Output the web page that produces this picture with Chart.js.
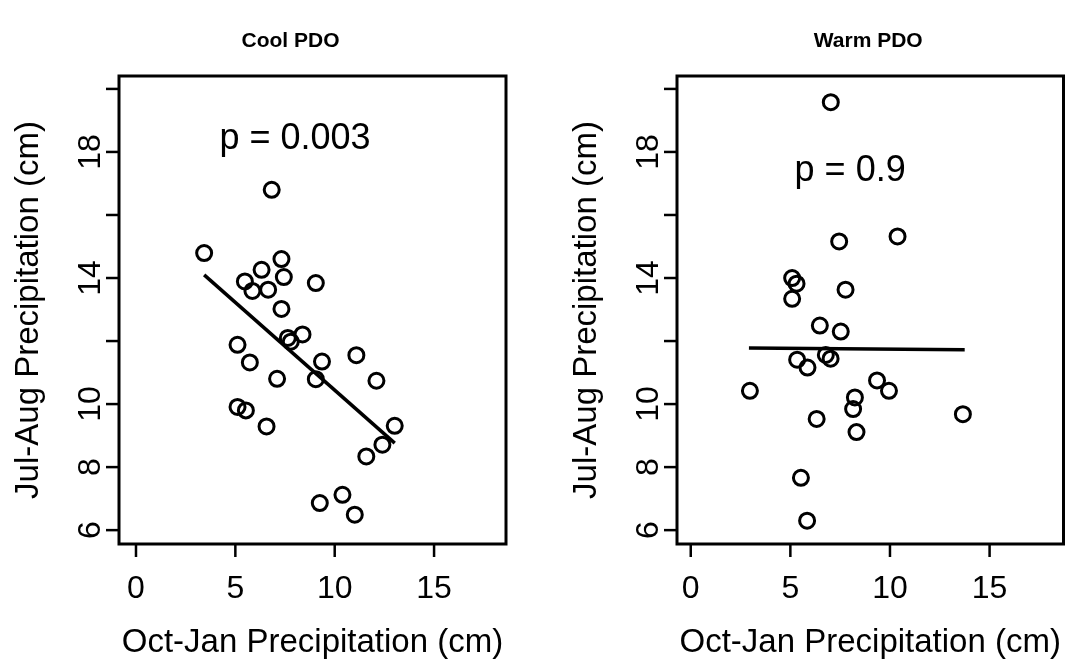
<!DOCTYPE html>
<html>
<head>
<meta charset="utf-8">
<script src="https://cdn.jsdelivr.net/npm/chart.js@4.4.1/dist/chart.umd.min.js"></script>
<style>
html,body{margin:0;padding:0;background:#fff;}
#wrap{position:relative;width:1074px;height:663px;overflow:hidden;background:#fff;}
canvas{position:absolute;top:0;}
</style>
</head>
<body>
<div id="wrap">
<canvas id="c1" width="537" height="663" style="left:0px"></canvas>
<canvas id="c2" width="537" height="663" style="left:537px"></canvas>
</div>
<script>
// ---- data ----
const panelTitles = ['Cool PDO', 'Warm PDO'];
const pLabels = ['p = 0.003', 'p = 0.9'];
const xAxisTitle = 'Oct-Jan Precipitation (cm)';
const yAxisTitle = 'Jul-Aug Precipitation (cm)';
const xTicks = [0, 5, 10, 15];
const xTickLabels = ['0', '5', '10', '15'];
const yTicks = [6, 8, 10, 12, 14, 16, 18, 20];
const yTickLabels = ['6', '8', '10', '', '14', '', '18', ''];

const coolX = [3.43, 6.32, 7.32, 5.48, 5.86, 6.65, 7.44, 9.05, 7.32, 7.64, 8.38, 7.79, 5.11, 5.73, 11.09, 9.36, 7.10, 9.05, 12.10, 6.83, 5.11, 5.53, 6.57, 13.02, 12.40, 11.59, 10.39, 9.25, 11.01];
const coolY = [14.79, 14.26, 14.60, 13.89, 13.59, 13.63, 14.03, 13.84, 13.02, 12.10, 12.21, 11.98, 11.88, 11.32, 11.55, 11.35, 10.80, 10.79, 10.74, 16.80, 9.91, 9.80, 9.29, 9.31, 8.71, 8.34, 7.12, 6.86, 6.49];
const coolFitX = [3.43, 13.02];
const coolFitY = [14.10, 8.76];

const warmX = [7.03, 7.45, 10.38, 5.09, 5.31, 5.09, 7.77, 6.48, 7.53, 6.78, 7.02, 5.34, 5.86, 2.97, 9.35, 9.95, 8.24, 8.15, 6.32, 13.66, 8.32, 5.53, 5.84];
const warmY = [19.58, 15.16, 15.32, 14.00, 13.82, 13.34, 13.63, 12.49, 12.30, 11.56, 11.44, 11.41, 11.16, 10.42, 10.75, 10.42, 10.21, 9.84, 9.53, 9.68, 9.11, 7.66, 6.30];
const warmFitX = [2.92, 13.75];
const warmFitY = [11.78, 11.72];

// ---- layout / style ----
const FONT = '"Liberation Sans", Arial, Helvetica, sans-serif';
const panels = [
  {canvas: 'c1', xs: coolX, ys: coolY, fx: coolFitX, fy: coolFitY, title: panelTitles[0], p: pLabels[0],
   pPos: [8, 18.5], titleShift: -22, xMin: -0.855, xMax: 18.62, pad: {left: 119, right: 31, top: 76, bottom: 119}},
  {canvas: 'c2', xs: warmX, ys: warmY, fx: warmFitX, fy: warmFitY, title: panelTitles[1], p: pLabels[1],
   pPos: [8, 17.5], titleShift: -2, xMin: -0.69, xMax: 18.71, pad: {left: 140, right: 10, top: 76, bottom: 119}}
];

function toPts(xs, ys) { return xs.map((x, i) => ({x: x, y: ys[i]})); }

const decor = {
  id: 'decor',
  afterDraw(chart, args, opts) {
    const ctx = chart.ctx, a = chart.chartArea;
    const sx = chart.scales.x, sy = chart.scales.y;
    ctx.save();
    ctx.strokeStyle = '#000';
    ctx.fillStyle = '#000';
    // frame
    ctx.lineWidth = 3;
    ctx.strokeRect(a.left, a.top, a.right - a.left, a.bottom - a.top);
    // x ticks
    ctx.lineWidth = 2.5;
    ctx.font = '32px ' + FONT;
    ctx.textAlign = 'center';
    ctx.textBaseline = 'alphabetic';
    xTicks.forEach((v, i) => {
      const px = sx.getPixelForValue(v);
      ctx.beginPath(); ctx.moveTo(px, a.bottom); ctx.lineTo(px, a.bottom + 13); ctx.stroke();
      ctx.fillText(xTickLabels[i], px, a.bottom + 54);
    });
    // y ticks (labels rotated)
    yTicks.forEach((v, i) => {
      const py = sy.getPixelForValue(v);
      ctx.beginPath(); ctx.moveTo(a.left, py); ctx.lineTo(a.left - 13, py); ctx.stroke();
      if (yTickLabels[i]) {
        ctx.save();
        ctx.translate(a.left - 19, py);
        ctx.rotate(-Math.PI / 2);
        ctx.fillText(yTickLabels[i], 0, 0);
        ctx.restore();
      }
    });
    // axis titles
    ctx.font = '33px ' + FONT;
    const cx = (a.left + a.right) / 2, cy = (a.top + a.bottom) / 2;
    ctx.fillText(xAxisTitle, cx, a.bottom + 108);
    ctx.save();
    ctx.translate(a.left - 81, cy);
    ctx.rotate(-Math.PI / 2);
    ctx.fillText(yAxisTitle, 0, 0);
    ctx.restore();
    // panel title
    ctx.font = 'bold 21px ' + FONT;
    ctx.fillText(opts.title, cx + opts.titleShift, 47);
    // p value
    ctx.font = '36px ' + FONT;
    ctx.fillText(opts.p, sx.getPixelForValue(opts.pPos[0]), sy.getPixelForValue(opts.pPos[1]) + 13);
    ctx.restore();
  }
};

panels.forEach(p => {
  new Chart(document.getElementById(p.canvas), {
    type: 'scatter',
    data: {
      datasets: [
        {
          type: 'scatter',
          data: toPts(p.xs, p.ys),
          pointStyle: 'circle',
          pointRadius: 7.5,
          pointBorderWidth: 3,
          pointBackgroundColor: 'rgba(0,0,0,0)',
          pointBorderColor: '#000',
          showLine: false
        },
        {
          type: 'line',
          data: toPts(p.fx, p.fy),
          borderColor: '#000',
          borderWidth: 3.5,
          pointRadius: 0,
          fill: false,
          tension: 0
        }
      ]
    },
    options: {
      responsive: false,
      animation: false,
      events: [],
      layout: {padding: p.pad},
      plugins: {
        legend: {display: false},
        tooltip: {enabled: false},
        title: {display: false},
        decor: {title: p.title, p: p.p, pPos: p.pPos, titleShift: p.titleShift}
      },
      scales: {
        x: {type: 'linear', min: p.xMin, max: p.xMax, display: false},
        y: {type: 'linear', min: 5.56, max: 20.41, display: false}
      }
    },
    plugins: [decor]
  });
});
</script>
</body>
</html>
